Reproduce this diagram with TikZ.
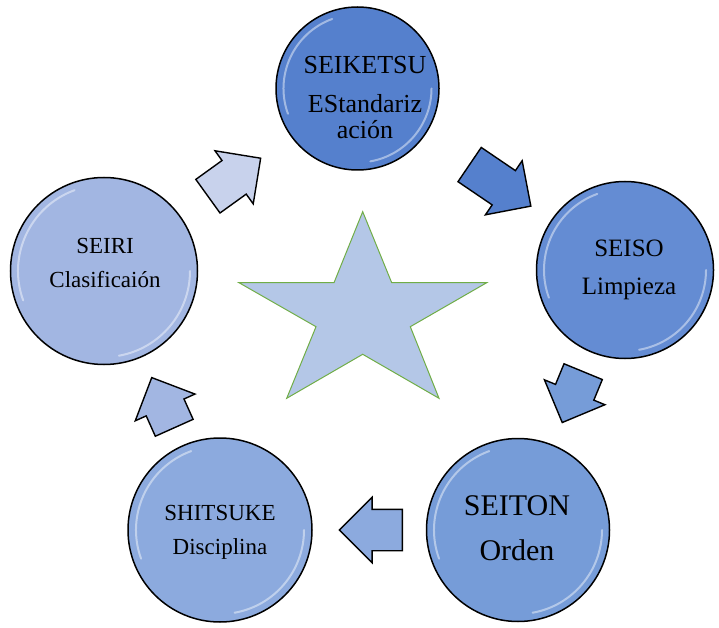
\documentclass[tikz,border=0pt]{standalone}
\usepackage{fontspec}
\setmainfont{Liberation Serif}
\usetikzlibrary{shapes.arrows}
\definecolor{azulA}{RGB}{85,128,205}
\definecolor{azulB}{RGB}{100,140,211}
\definecolor{azulC}{RGB}{118,156,216}
\definecolor{azulD}{RGB}{140,170,222}
\definecolor{azulE}{RGB}{162,182,226}
\definecolor{flechaA}{RGB}{200,210,236}
\definecolor{estrella}{RGB}{180,199,231}
\definecolor{verde}{RGB}{112,173,71}
\tikzset{
  bola/.style={circle, draw=black, line width=1.5pt, inner sep=0},
  brillo/.style={white, line width=2pt, opacity=0.45, line cap=round},
  flecha/.style={single arrow, draw=black, line width=1.4pt, inner xsep=0, inner ysep=20, single arrow head extend=12, sloped, allow upside down},
  texto/.style={anchor=base, inner sep=0}
}

\begin{document}
\begin{tikzpicture}[x=1pt, y=1pt]
  \useasboundingbox (0,0) rectangle (719,627);
  % circulos
  \node[bola, fill=azulA, minimum size=163](seiketsu) at (357.5, 538.5){};
  \node[bola, fill=azulB, minimum size=177](seiso) at (625, 357){};
  \node[bola, fill=azulC, minimum size=183](seiton) at (518, 97){};
  \node[bola, fill=azulD, minimum size=184](shitsuke) at (220, 97){};
  \node[bola, fill=azulE, minimum size=187](seiri) at (104, 356){};
  \foreach \c/\r in {seiketsu/81, seiso/88, seiton/91, shitsuke/91, seiri/93}{
    \draw[brillo] ([shift={(200:\r-7)}]\c.center) arc[start angle=200, end angle=110, radius=\r-7];
    \draw[brillo] ([shift={(-80:\r-7)}]\c.center) arc[start angle=-80, end angle=0, radius=\r-7];
  }

  % estrella
  \draw[fill=estrella, draw=verde, line width=1pt] (362.7,415.3) -- (391.7,344.3) -- (486.7,344.3)
    -- (410.3,300.3) -- (439,228.7) -- (362.7,272.7) -- (286.7,228.7) -- (316,300.3)
    -- (239,344.3) -- (334,344.3) -- cycle;

  % flechas
  \path (seiri) -- node[flecha, fill=flechaA, minimum height=65, xshift=-12](f1){} (seiketsu);
  \path (seiketsu) -- node[flecha, fill=azulA, minimum height=74, xshift=4](f2){} (seiso);
  \path (seiso) -- node[flecha, fill=azulC, minimum height=55, xshift=-12](f3){} (seiton);
  \path (seiton) -- node[flecha, fill=azulD, minimum height=63, xshift=-12](f4){} (shitsuke);
  \path (shitsuke) -- node[flecha, fill=azulE, minimum height=55, xshift=-12](f5){} (seiri);

  % textos
  \node[texto, font=\fontsize{26}{30}\selectfont](t1a) at (365, 553){SEIKETSU};
  \node[texto, font=\fontsize{26}{30}\selectfont](t1b) at (365, 514){EStandariz};
  \node[texto, font=\fontsize{26}{30}\selectfont](t1c) at (365, 488){ación};
  \node[texto, font=\fontsize{25}{30}\selectfont](t2a) at (629, 370){SEISO};
  \node[texto, font=\fontsize{25}{30}\selectfont](t2b) at (629, 332){Limpieza};
  \node[texto, font=\fontsize{30}{36}\selectfont](t3a) at (517, 112){SEITON};
  \node[texto, font=\fontsize{30}{36}\selectfont](t3b) at (517, 67){Orden};
  \node[texto, font=\fontsize{23}{28}\selectfont](t4a) at (220, 107){SHITSUKE};
  \node[texto, font=\fontsize{23}{28}\selectfont](t4b) at (220, 73){Disciplina};
  \node[texto, font=\fontsize{23}{28}\selectfont](t5a) at (105, 373){SEIRI};
  \node[texto, font=\fontsize{23}{28}\selectfont](t5b) at (105, 339){Clasificaión};
\end{tikzpicture}
\end{document}
